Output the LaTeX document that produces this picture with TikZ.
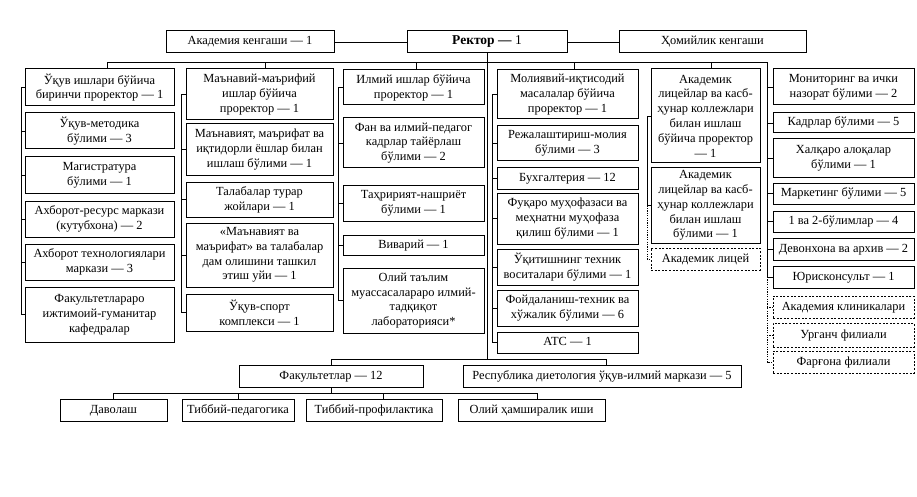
\documentclass[tikz,border=0pt]{standalone}
\usepackage{fontspec}
\setmainfont{Liberation Serif}
\begin{document}
\begin{tikzpicture}[x=1pt,y=-1pt,
  box/.style={draw=black,line width=1pt,inner sep=0.5pt,outer sep=0pt,align=center,
    font=\fontsize{12.4}{14.8}\selectfont},
  one/.style={box,text height=8.4pt,text depth=2.4pt},
  dbox/.style={one,dashed,dash pattern=on 2pt off 1.6pt,line width=0.9pt},
  conn/.style={draw=black,line width=0.8pt},
  dconn/.style={conn,dash pattern=on 1.2pt off 1.2pt}]
\newcommand\ob[7]{\node[#1,minimum width={(#5-#3)*1pt},minimum height={(#6-#4)*1pt}] (#2) at ({(#3+#5)/2},{(#4+#6)/2}) {#7};}
\useasboundingbox[fill=white] (0,0) rectangle (917,497);
% top row
\ob{one}{akad}{166}{31}{334}{53}{Академия кенгаши — 1}
\ob{one}{rector}{407}{31}{567}{53}{\fontsize{13.5}{15}\selectfont\textbf{Ректор —} 1}
\ob{one}{homiy}{619}{31}{806}{53}{Ҳомийлик кенгаши}
% column 1
\ob{box}{c1a}{25}{69}{174}{106}{Ўқув ишлари бўйича\\биринчи проректор — 1}
\ob{box}{c1b}{25}{113}{174}{149}{Ўқув-методика\\бўлими — 3}
\ob{box}{c1c}{25}{157}{174}{193}{Магистратура\\бўлими — 1}
\ob{box}{c1d}{25}{201}{174}{237}{Ахборот-ресурс маркази\\(кутубхона) — 2}
\ob{box}{c1e}{25}{244}{174}{280}{Ахборот технологиялари\\маркази — 3}
\ob{box}{c1f}{25}{287}{174}{342}{Факультетлараро\\ижтимоий-гуманитар\\кафедралар}
% column 2
\ob{box}{c2a}{186}{69}{333}{120}{Маънавий-маърифий\\ишлар бўйича\\проректор — 1}
\ob{box}{c2b}{186}{124}{333}{175}{Маънавият, маърифат ва\\иқтидорли ёшлар билан\\ишлаш бўлими — 1}
\ob{box}{c2c}{186}{182}{333}{217}{Талабалар турар\\жойлари — 1}
\ob{box}{c2d}{186}{223}{333}{287}{«Маънавият ва\\маърифат» ва талабалар\\дам олишини ташкил\\этиш уйи — 1}
\ob{box}{c2e}{186}{294}{333}{331}{Ўқув-спорт\\комплекси — 1}
% column 3
\ob{box}{c3a}{343}{70}{484}{105}{Илмий ишлар бўйича\\проректор — 1}
\ob{box}{c3b}{343}{118}{484}{168}{Фан ва илмий-педагог\\кадрлар тайёрлаш\\бўлими — 2}
\ob{box}{c3c}{343}{185}{484}{221}{Таҳририят-нашриёт\\бўлими — 1}
\ob{one}{c3d}{343}{235}{484}{255}{Виварий — 1}
\ob{box}{c3e}{343}{268}{484}{333}{Олий таълим\\муассасалараро илмий-\\тадқиқот\\лабораторияси*}
% column 4
\ob{box}{c4a}{497}{70}{638}{119}{Молиявий-иқтисодий\\масалалар бўйича\\проректор — 1}
\ob{box}{c4b}{497}{126}{638}{161}{Режалаштириш-молия\\бўлими — 3}
\ob{one}{c4c}{497}{168}{638}{189}{Бухгалтерия — 12}
\ob{box}{c4d}{497}{193}{638}{244}{Фуқаро муҳофазаси ва\\меҳнатни муҳофаза\\қилиш бўлими — 1}
\ob{box}{c4e}{497}{249}{638}{285}{Ўқитишнинг техник\\воситалари бўлими — 1}
\ob{box}{c4f}{497}{290}{638}{326}{Фойдаланиш-техник ва\\хўжалик бўлими — 6}
\ob{one}{c4g}{497}{332}{638}{353}{АТС — 1}
% column 5
\ob{box}{c5a}{651}{69}{760}{163}{Академик\\лицейлар ва касб-\\ҳунар коллежлари\\билан ишлаш\\бўйича проректор\\— 1}
\ob{box}{c5b}{651}{168}{760}{243}{Академик\\лицейлар ва касб-\\ҳунар коллежлари\\билан ишлаш\\бўлими — 1}
\ob{dbox}{c5c}{651}{248}{760}{270}{Академик лицей}
% column 6
\ob{box}{c6a}{773}{69}{914}{105}{Мониторинг ва ички\\назорат бўлими — 2}
\ob{one}{c6b}{773}{113}{914}{133}{Кадрлар бўлими — 5}
\ob{box}{c6c}{773}{139}{914}{177}{Халқаро алоқалар\\бўлими — 1}
\ob{one}{c6d}{773}{183}{914}{204}{Маркетинг бўлими — 5}
\ob{one}{c6e}{773}{211}{914}{232}{1 ва 2-бўлимлар — 4}
\ob{one}{c6f}{773}{238}{914}{260}{Девонхона ва архив — 2}
\ob{one}{c6g}{773}{266}{914}{288}{Юрисконсульт — 1}
\ob{dbox}{c6h}{773}{296}{914}{318}{Академия клиникалари}
\ob{dbox}{c6i}{773}{323}{914}{347}{Урганч филиали}
\ob{dbox}{c6j}{773}{351}{914}{373}{Фарғона филиали}
% bottom
\ob{one}{fak}{239}{365}{423}{387}{Факультетлар — 12}
\ob{one}{resp}{463}{365}{741}{387}{Республика диетология ўқув-илмий маркази — 5}
\ob{one}{d1}{60}{399}{167}{421}{Даволаш}
\ob{one}{d2}{182}{399}{294}{421}{Тиббий-педагогика}
\ob{one}{d3}{306}{399}{442}{421}{Тиббий-профилактика}
\ob{one}{d4}{458}{399}{605}{421}{Олий ҳамширалик иши}
% coordinates
\coordinate (bR) at (767,62);
\coordinate (s1) at (21,0);
\coordinate (s2) at (181,0);
\coordinate (s3) at (338,0);
\coordinate (s4) at (492,0);
\coordinate (s5) at (647,0);
% top connectors
\draw[conn] (akad.east) -- (rector.west);
\draw[conn] (rector.east) -- (homiy.west);
\draw[conn] ([xshift=7.5pt]c1a.north) |- (bR) -- (bR |- c6g.west);
\foreach \n/\s in {c2a/5.5,c3a/2.5,c4a/6.5,c5a/5.5}
  \draw[conn] ([xshift=\s pt]\n.north) -- ([xshift=\s pt]\n.north |- bR);
% spines
\draw[conn] (c1a.west) -- (c1a.west -| s1) -- (c1f.west -| s1) -- (c1f.west);
\foreach \n in {c1b,c1c,c1d,c1e} \draw[conn] (\n.west) -- (\n.west -| s1);
\draw[conn] (c2a.west) -- (c2a.west -| s2) -- (c2e.west -| s2) -- (c2e.west);
\foreach \n in {c2b,c2c,c2d} \draw[conn] (\n.west) -- (\n.west -| s2);
\draw[conn] (c3a.west) -- (c3a.west -| s3) -- (c3e.west -| s3) -- (c3e.west);
\foreach \n in {c3b,c3c,c3d} \draw[conn] (\n.west) -- (\n.west -| s3);
\draw[conn] (c4a.west) -- (c4a.west -| s4) -- (c4g.west -| s4) -- (c4g.west);
\foreach \n in {c4b,c4c,c4d,c4e,c4f} \draw[conn] (\n.west) -- (\n.west -| s4);
\draw[conn] (c5a.west) -- (c5a.west -| s5) -- (c5b.west -| s5) -- (c5b.west);
\draw[dconn] (c5b.west -| s5) -- (c5c.west -| s5) -- (c5c.west);
\foreach \n in {c6a,c6b,c6c,c6d,c6e,c6f,c6g} \draw[conn] (\n.west) -- (\n.west -| bR);
\draw[dconn] (c6g.west -| bR) -- (c6j.west -| bR) -- (c6j.west);
\foreach \n in {c6h,c6i} \draw[dconn] (\n.west) -- (\n.west -| bR);
% rector down
\coordinate (m2) at (487,359);
\draw[conn] (rector.south) -- (m2);
\draw[conn] (fak.north) -- ++(0,-6) -| ([xshift=4pt]resp.north);
% faculties
\draw[conn] (d1.north) -- ++(0,-6) -| ([xshift=6pt]d4.north);
\draw[conn] (fak.south) -- ++(0,6);
\draw[conn] (d2.north) -- ++(0,-6);
\draw[conn] ([xshift=9pt]d3.north) -- ++(0,-6);
\end{tikzpicture}
\end{document}
